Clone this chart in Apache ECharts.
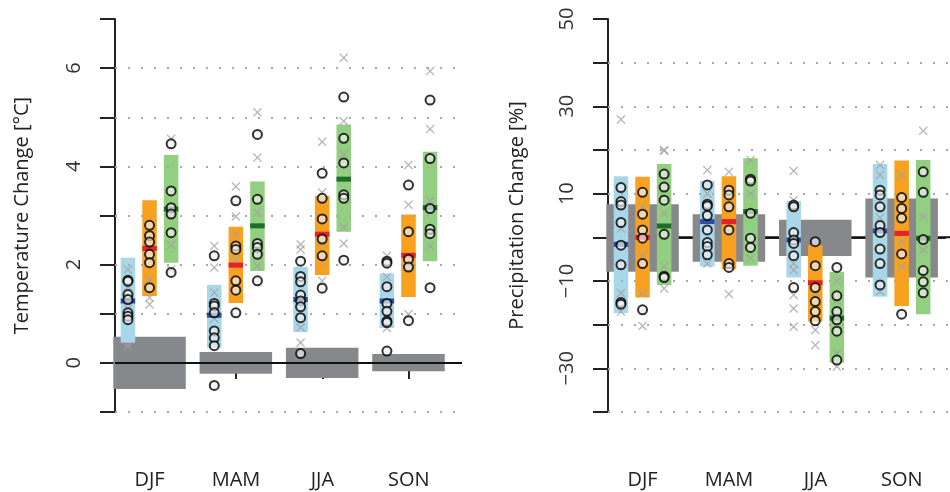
<!DOCTYPE html>
<html>
<head>
<meta charset="utf-8">
<script src="https://cdn.jsdelivr.net/npm/echarts@6/dist/echarts.min.js"></script>
<style>
  html, body { margin: 0; padding: 0; background: #fff; }
  #chart { width: 950px; height: 492px; }
</style>
</head>
<body>
<div id="chart"></div>
<script>
// Seasonal temperature / precipitation change, two panels side by side.
// Values.

const SEASONS = ["DJF", "MAM", "JJA", "SON"];

// ---- temperature panel [°C] ----
const T_GRID = [-1, 1, 2, 3, 4, 5, 6];
const T_GREY = [[-0.53, 0.53], [-0.22, 0.22], [-0.31, 0.31], [-0.17, 0.18]];

const T_BLUE_BAR = [[0.41, 2.14], [0.31, 1.59], [0.63, 1.95], [0.71, 1.82]];
const T_BLUE_MED = [1.26, 0.97, 1.29, 1.26];
const T_BLUE_PTS = [
  [1.68, 1.66, 1.39, 1.29, 1.02, 0.95, 0.88],
  [2.18, 1.21, 1.16, 1.02, 0.65, 0.51, 0.35, -0.46],
  [2.07, 1.76, 1.65, 1.38, 1.26, 1.14, 0.92, 0.19],
  [2.07, 2.03, 1.55, 1.21, 1.05, 0.85, 0.82, 0.24],
];
const T_BLUE_X = [[1.90, 1.55, 1.10, 0.34], [2.38, 1.94, 1.43, 0.90], [2.41, 2.31, 0.72, 0.41], [2.18, 1.75, 0.71]];

const T_ORG_BAR = [[1.36, 3.31], [1.22, 2.77], [1.79, 3.40], [1.34, 3.02]];
const T_ORG_MED = [2.33, 1.99, 2.62, 2.19];
const T_ORG_PTS = [
  [2.80, 2.59, 2.46, 2.21, 2.04, 1.53],
  [3.30, 2.38, 2.31, 1.67, 1.48, 1.02],
  [3.86, 3.35, 2.93, 2.52, 2.18, 1.52],
  [3.62, 2.67, 2.11, 1.95, 0.86],
];
const T_ORG_X = [[2.35, 1.70, 1.33, 1.19], [3.59, 2.98, 2.62, 2.11], [4.50, 3.47, 2.45, 1.67], [4.03, 3.22, 1.95, 0.99]];

const T_GRN_BAR = [[2.04, 4.23], [1.87, 3.69], [2.67, 4.85], [2.07, 4.30]];
const T_GRN_MED = [3.13, 2.79, 3.74, 3.16];
const T_GRN_PTS = [
  [4.46, 3.50, 3.16, 3.03, 2.65, 1.84],
  [4.65, 3.33, 2.43, 2.35, 2.21, 1.67],
  [5.41, 4.57, 4.07, 3.42, 3.35, 2.09],
  [5.35, 4.16, 3.14, 2.72, 2.63, 1.53],
];
const T_GRN_X = [[4.56, 3.10, 2.40, 1.90], [5.10, 4.18, 3.06, 1.97], [6.21, 4.92, 4.25, 2.76, 2.43], [5.94, 4.76, 3.30, 2.38]];

// ---- precipitation panel [%] ----
const P_GRID = [-40, -30, -20, -10, 10, 20, 30, 40];
const P_GREY = [[-7.9, 7.6], [-5.6, 5.3], [-4.3, 4.0], [-9.2, 8.9]];

const P_BLUE_BAR = [[-17.3, 14.0], [-6.7, 12.9], [-9.2, 8.3], [-13.6, 16.8]];
const P_BLUE_MED = [-1.6, 3.6, -0.6, 1.5];
const P_BLUE_PTS = [
  [11.4, 8.2, 7.4, 3.4, -1.8, -6.3, -14.9, -15.3],
  [12.0, 7.6, 7.2, 5.0, 1.7, -1.2, -2.1, -4.0],
  [7.4, 7.0, 1.1, -0.6, -1.4, -4.2, -11.5],
  [10.8, 9.7, 7.0, 2.7, 1.1, -2.7, -6.0, -10.9],
];
const P_BLUE_X = [[27.0, 2.0, -12.8, -17.0], [15.4, 10.0, -6.0], [15.2, 8.5, -6.0, -7.5, -13.2, -16.3, -20.5], [16.6, 14.3, 4.5, -12.4]];

const P_ORG_BAR = [[-13.8, 13.9], [-7.3, 14.0], [-19.3, -1.8], [-15.7, 17.6]];
const P_ORG_MED = [0.0, 3.6, -10.4, 0.9];
const P_ORG_PTS = [
  [10.3, 5.3, 1.7, -0.2, -6.0, -16.6],
  [10.8, 9.7, 7.0, 1.7, -6.0, -6.9],
  [-1.0, -6.5, -11.5, -14.7, -17.0, -19.1],
  [9.1, 6.6, 4.4, -3.8, -17.6],
];
const P_ORG_X = [[7.0, -4.0, -12.8, -20.3], [15.0, 1.0, -13.0], [-13.0, -21.2, -24.7], [14.3, -1.0, -6.7]];

const P_GRN_BAR = [[-10.9, 16.8], [-6.5, 18.1], [-28.7, -7.9], [-17.6, 17.7]];
const P_GRN_MED = [2.6, 5.9, -18.5, -0.2];
const P_GRN_PTS = [
  [14.5, 11.5, 8.5, 0.7, -8.9, -9.2],
  [13.3, 12.9, 5.5, -0.2, -2.3],
  [-6.9, -13.4, -17.0, -18.9, -21.5, -28.1],
  [15.0, 10.3, -0.5, -7.6, -10.2, -12.7],
];
const P_GRN_X = [[20.0, 19.8, 5.5, -6.7, -11.7], [17.7, 10.0, -4.8], [-10.0, -14.5, -26.6, -29.6], [24.4, 4.7, -2.9]];

const COL = {
  grey: "#87888b", blue: "#a9d7ea", orange: "#f8a11e", green: "#93cf81",
  blueMed: "#2a4fa0", redMed: "#e5202b", greenMed: "#1d6d2c",
  cross: "#a3a3a3", dots: "#a8a8a8",
};
const FONT = "'Open Sans', sans-serif";
const OFF = { blue: -0.25, orange: 0, green: 0.25 };
const BAR_HALF = 0.084, GREY_HALF = 0.42;
const CROSS = "path://M1,0L5,4L9,0L10,1L6,5L10,9L9,10L5,6L1,10L0,9L4,5L0,1Z";

function rects(ax, items, off, half, color, z) {
  return {
    type: "custom", xAxisIndex: ax, yAxisIndex: ax, z, silent: true, clip: false,
    data: items.map((r, i) => [i + 1 + off, r[0], r[1]]),
    renderItem: (params, api) => {
      const a = api.coord([api.value(0) - half, api.value(2)]);
      const b = api.coord([api.value(0) + half, api.value(1)]);
      return { type: "rect", shape: { x: a[0], y: a[1], width: b[0] - a[0], height: b[1] - a[1] },
        style: { fill: color } };
    },
  };
}

function medians(ax, vals, off, color) {
  return {
    type: "custom", xAxisIndex: ax, yAxisIndex: ax, z: 5, silent: true,
    data: vals.map((v, i) => [i + 1 + off, v]),
    renderItem: (params, api) => {
      const a = api.coord([api.value(0) - BAR_HALF, api.value(1)]);
      const b = api.coord([api.value(0) + BAR_HALF, api.value(1)]);
      return { type: "rect", shape: { x: a[0], y: a[1] - 2.5, width: b[0] - a[0], height: 5 },
        style: { fill: color } };
    },
  };
}

function flat(groups, off) {
  const out = [];
  groups.forEach((g, i) => g.forEach((v) => out.push([i + 1 + off, v])));
  return out;
}

function circles(ax, groups, off) {
  return { type: "scatter", xAxisIndex: ax, yAxisIndex: ax, z: 6, silent: true,
    data: flat(groups, off), symbol: "circle", symbolSize: 9,
    itemStyle: { color: "rgba(240,240,240,0.85)", borderColor: "#000", borderWidth: 2 } };
}

function crosses(ax, groups, off) {
  return { type: "scatter", xAxisIndex: ax, yAxisIndex: ax, z: 4, silent: true,
    data: flat(groups, off), symbol: CROSS, symbolSize: 9,
    itemStyle: { color: COL.cross } };
}

// dotted guide lines behind everything
function guides(ax, grid) {
  return { type: "line", xAxisIndex: ax, yAxisIndex: ax, data: [], z: 1, silent: true,
    markLine: { symbol: "none", silent: true, label: { show: false },
      lineStyle: { color: COL.dots, type: [2, 11], width: 2 },
      data: grid.map((v) => ({ yAxis: v })) } };
}

// solid zero line across the plot region; z decides whether it sits over the grey bars
function zeroLine(ax, z) {
  return { type: "custom", xAxisIndex: ax, yAxisIndex: ax, z, silent: true, data: [[1, 0]],
    renderItem: (params, api) => {
      const cs = params.coordSys;
      const y = api.coord([api.value(0), api.value(1)])[1];
      return { type: "line", shape: { x1: cs.x, y1: y, x2: cs.x + cs.width, y2: y },
        style: { stroke: "#111", lineWidth: 2 } };
    } };
}

function panel(ax, d, zeroZ) {
  return [
    guides(ax, d.grid),
    zeroLine(ax, zeroZ),
    rects(ax, d.grey, 0, GREY_HALF, COL.grey, 2),
    rects(ax, d.blueBar, OFF.blue, BAR_HALF, COL.blue, 3),
    rects(ax, d.orgBar, OFF.orange, BAR_HALF, COL.orange, 3),
    rects(ax, d.grnBar, OFF.green, BAR_HALF, COL.green, 3),
    crosses(ax, d.blueX, OFF.blue),
    crosses(ax, d.orgX, OFF.orange),
    crosses(ax, d.grnX, OFF.green),
    medians(ax, d.blueMed, OFF.blue, COL.blueMed),
    medians(ax, d.orgMed, OFF.orange, COL.redMed),
    medians(ax, d.grnMed, OFF.green, COL.greenMed),
    circles(ax, d.bluePts, OFF.blue),
    circles(ax, d.orgPts, OFF.orange),
    circles(ax, d.grnPts, OFF.green),
  ];
}

function yAxisStyle(grid, min, max, interval, labels, name, gap) {
  return {
    type: "value", gridIndex: grid, min, max, interval, name, nameLocation: "middle", nameGap: gap,
    nameTextStyle: { fontFamily: FONT, fontSize: 20, color: "#222" },
    axisLine: { show: true, lineStyle: { color: "#222", width: 2 } },
    axisTick: { show: true, length: 15, lineStyle: { color: "#222", width: 2 } },
    axisLabel: { rotate: 90, margin: 31, fontFamily: FONT, fontSize: 20, color: "#333",
      formatter: (v) => (labels.includes(v) ? String(v).replace("-", "\u2212") : "") },
    splitLine: { show: false },
  };
}

function xShowAxis(grid) {
  return {
    type: "value", gridIndex: grid, min: 0.6, max: 4.5, position: "bottom", offset: 16,
    axisLine: { show: true, lineStyle: { color: "#222", width: 2 } },
    axisTick: { show: true, length: 16, customValues: [1, 2, 3, 4], lineStyle: { color: "#222", width: 2 } },
    axisLabel: { margin: 42, customValues: [1, 2, 3, 4], fontFamily: FONT, fontSize: 20, color: "#222",
      formatter: (v) => SEASONS[Math.round(v) - 1] || "" },
    splitLine: { show: false },
  };
}

const hiddenX = (grid, max) => ({ type: "value", gridIndex: grid, min: 0.6, max, show: false });
const hiddenY = (grid, min, max) => ({ type: "value", gridIndex: grid, min, max, show: false });

const temp = {
  grid: T_GRID, grey: T_GREY,
  blueBar: T_BLUE_BAR, blueMed: T_BLUE_MED, bluePts: T_BLUE_PTS, blueX: T_BLUE_X,
  orgBar: T_ORG_BAR, orgMed: T_ORG_MED, orgPts: T_ORG_PTS, orgX: T_ORG_X,
  grnBar: T_GRN_BAR, grnMed: T_GRN_MED, grnPts: T_GRN_PTS, grnX: T_GRN_X,
};
const prec = {
  grid: P_GRID, grey: P_GREY,
  blueBar: P_BLUE_BAR, blueMed: P_BLUE_MED, bluePts: P_BLUE_PTS, blueX: P_BLUE_X,
  orgBar: P_ORG_BAR, orgMed: P_ORG_MED, orgPts: P_ORG_PTS, orgX: P_ORG_X,
  grnBar: P_GRN_BAR, grnMed: P_GRN_MED, grnPts: P_GRN_PTS, grnX: P_GRN_X,
};

const chart = echarts.init(document.getElementById("chart"));
chart.setOption({
  animation: false,
  backgroundColor: "#fff",
  grid: [
    { left: 115, top: 19, width: 347, height: 393 },   // temperature data
    { left: 115, top: 19, width: 337, height: 393 },   // temperature x axis
    { left: 608, top: 19, width: 342, height: 393 },   // precipitation data
    { left: 608, top: 19, width: 337, height: 393 },   // precipitation x axis
  ],
  xAxis: [hiddenX(0, 4.62), xShowAxis(1), hiddenX(2, 4.56), xShowAxis(3)],
  yAxis: [
    yAxisStyle(0, -1, 7, 1, [0, 2, 4, 6], "Temperature Change [°C]", 83),
    hiddenY(1, -1, 7),
    yAxisStyle(2, -40, 50, 10, [-30, -10, 10, 30, 50], "Precipitation Change [%]", 81),
    hiddenY(3, -40, 50),
  ],
  series: [
    ...panel(0, temp, 8),
    ...panel(2, prec, 1),
  ],
});
</script>
</body>
</html>
